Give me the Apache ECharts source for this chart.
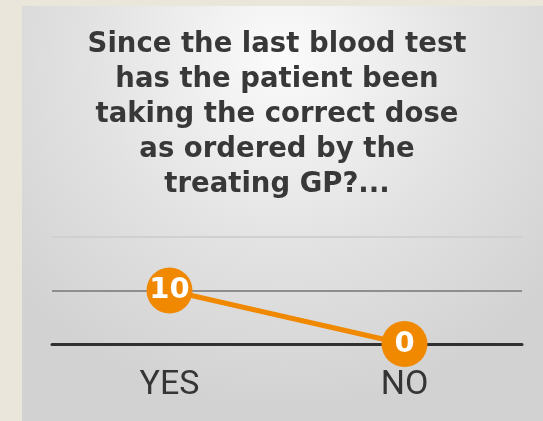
<!DOCTYPE html>
<html>
<head>
<meta charset="utf-8">
<script src="https://cdn.jsdelivr.net/npm/echarts@6/dist/echarts.min.js"></script>
<style>
html, body { margin: 0; padding: 0; background: #ebe6dc; }
#chart { width: 543px; height: 421px; }
</style>
</head>
<body>
<div id="chart"></div>
<script>
var titleText = 'Since the last blood test\nhas the patient been\ntaking the correct dose\nas ordered by the\ntreating GP?...';
var categories = ['YES', 'NO'];
var answers = [10, 0];
var yTicks = [0, 10, 20];

var chart = echarts.init(document.getElementById('chart'));
var option = {
    animation: false,
    graphic: [
        {
            type: 'rect',
            z: -10,
            shape: { x: 22, y: 6, width: 521, height: 415 },
            style: {
                fill: {
                    type: 'radial', x: 0.5, y: 0.12, r: 0.85,
                    colorStops: [
                        { offset: 0, color: '#fbfbfb' },
                        { offset: 0.55, color: '#e2e2e2' },
                        { offset: 1, color: '#d2d2d2' }
                    ]
                }
            }
        },
        {
            // question text, centred over the panel
            type: 'text',
            x: 277,
            y: 27,
            style: {
                text: titleText,
                align: 'center',
                fontFamily: 'DejaVu Sans',
                fontWeight: 'bold',
                fontSize: 27.5,
                lineHeight: 35,
                fill: '#383838'
            }
        }
    ],
    grid: {
        left: 52,
        right: 21,
        top: 237,
        bottom: 77
    },
    xAxis: {
        type: 'category',
        data: categories,
        axisTick: { show: false },
        axisLine: { lineStyle: { color: '#303030', width: 3 } },
        axisLabel: {
            margin: 24,
            fontFamily: 'Roboto',
            fontSize: 34,
            color: '#353535'
        }
    },
    yAxis: {
        type: 'value',
        min: yTicks[0],
        max: yTicks[yTicks.length - 1],
        interval: 10,
        axisLabel: { show: false },
        axisLine: { show: false },
        axisTick: { show: false },
        splitLine: {
            lineStyle: { color: ['#303030', '#8e8e8e', '#d0d0d0'], width: 2 }
        }
    },
    series: [
        {
            type: 'line',
            data: answers,
            symbol: 'circle',
            symbolSize: 46,
            itemStyle: { color: '#f08800' },
            lineStyle: { color: '#f08800', width: 5 },
            label: {
                show: true,
                position: 'inside',
                color: '#ffffff',
                fontFamily: 'DejaVu Sans',
                fontWeight: 'bold',
                fontSize: 29
            }
        }
    ]
};
chart.setOption(option);
window.addEventListener('resize', chart.resize);
</script>
</body>
</html>
